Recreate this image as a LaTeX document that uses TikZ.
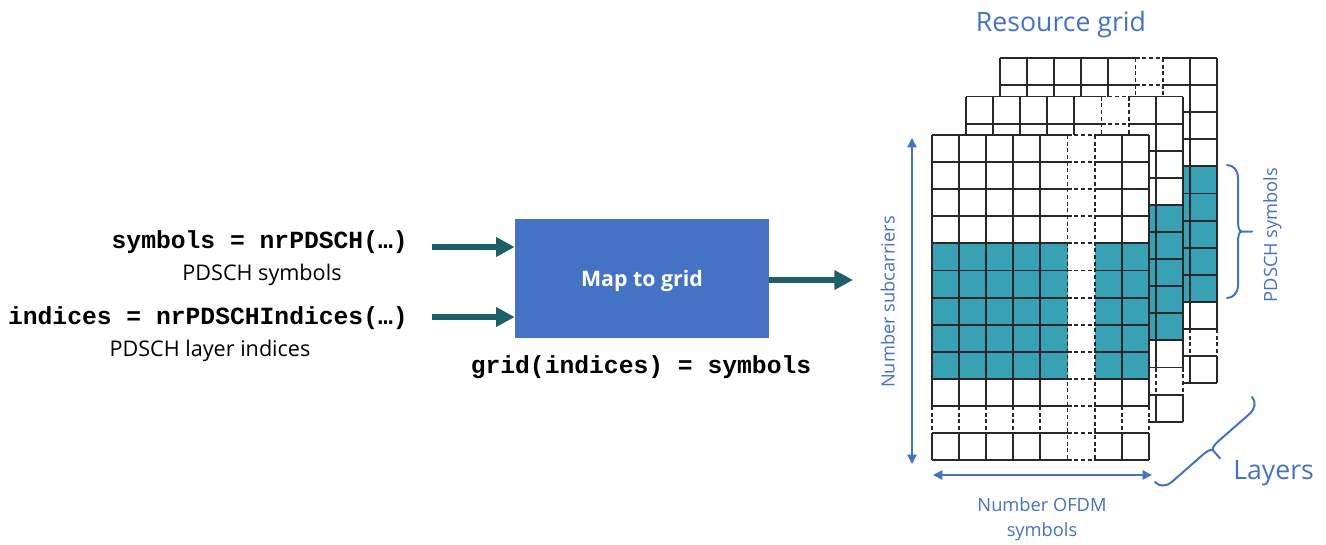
\documentclass[tikz,border=0pt]{standalone}
\usepackage{fontspec}
\setmainfont{Open Sans}
\newfontfamily\codefont{Liberation Mono}
\usetikzlibrary{arrows.meta}
\definecolor{boxblue}{RGB}{68,114,196}
\definecolor{txtblue}{RGB}{68,114,196}
\definecolor{arrowteal}{RGB}{31,95,104}
\definecolor{cellteal}{RGB}{56,162,180}
\definecolor{gridgray}{RGB}{40,40,40}
\def\cellsz{27.1}
\tikzset{
  gridline/.style={draw=gridgray,line width=1.4pt},
  griddash/.style={dash pattern=on 3pt off 2pt},
  bigarrow/.style={draw=arrowteal,line width=5.2pt,-{Triangle[length=14pt,width=14pt]}},
  bluearrow/.style={draw=txtblue,line width=1.1pt,{Triangle[length=7pt,width=7pt]}-{Triangle[length=7pt,width=7pt]}},
  bracestyle/.style={draw=txtblue,line width=1.5pt,line cap=round,line join=round},
  codetxt/.style={font=\codefont\bfseries\fontsize{18.5}{22}\selectfont,inner sep=0pt},
  lbltxt/.style={font=\fontsize{16.2}{19}\selectfont,inner sep=0pt},
  bluetxt/.style={font=\fontsize{13.7}{16}\selectfont,text=txtblue,inner sep=0pt},
  bigbluetxt/.style={font=\fontsize{20}{24}\selectfont,text=txtblue,inner sep=0pt},
}
\newcommand\layergrid[2]{%
  \begin{scope}[shift={(#1,#2)}]
    \fill[white] (0,0) rectangle ({8*\cellsz},{12*\cellsz});
    \fill[cellteal] (0,{4*\cellsz}) rectangle ({5*\cellsz},{9*\cellsz});
    \fill[cellteal] ({6*\cellsz},{4*\cellsz}) rectangle ({8*\cellsz},{9*\cellsz});
    \foreach \r in {0,...,12}{
      \draw[gridline] (0,{\r*\cellsz}) -- ({5*\cellsz},{\r*\cellsz});
      \draw[gridline,griddash] ({5*\cellsz},{\r*\cellsz}) -- ({6*\cellsz},{\r*\cellsz});
      \draw[gridline] ({6*\cellsz},{\r*\cellsz}) -- ({8*\cellsz},{\r*\cellsz});
    }
    \foreach \c in {0,1,2,3,4,7,8}{
      \draw[gridline] ({\c*\cellsz},0) -- ({\c*\cellsz},{10*\cellsz});
      \draw[gridline,griddash] ({\c*\cellsz},{10*\cellsz}) -- ({\c*\cellsz},{11*\cellsz});
      \draw[gridline] ({\c*\cellsz},{11*\cellsz}) -- ({\c*\cellsz},{12*\cellsz});
    }
    \foreach \c in {5,6}{
      \draw[gridline,griddash] ({\c*\cellsz},0) -- ({\c*\cellsz},{12*\cellsz});
    }
  \end{scope}}
\newcommand\drawbrace[4]{%
  \begin{scope}[shift={(#1,#2)},rotate=#3]
    \draw[bracestyle] (0,0) .. controls (0,6) and (5,11) .. (13,11)
      -- ({#4/2-11},11) .. controls ({#4/2-4},11) and ({#4/2},12) .. ({#4/2},15)
      -- ({#4/2},25)
      ({#4/2},15) .. controls ({#4/2},12) and ({#4/2+4},11) .. ({#4/2+11},11)
      -- ({#4-13},11) .. controls ({#4-5},11) and (#4,6) .. (#4,0);
  \end{scope}}
\begin{document}
\begin{tikzpicture}[x=0.75pt,y=-0.75pt]
\useasboundingbox (0,0) rectangle (1326,544);
% left texts
\node[codetxt,anchor=base east] (symcode) at (408,248) {symbols = nrPDSCH(…)};
\node[lbltxt,anchor=base] (symlbl) at (262,280) {PDSCH symbols};
\node[codetxt,anchor=base east] (idxcode) at (408,324) {indices = nrPDSCHIndices(…)};
\node[lbltxt,anchor=base] (idxlbl) at (210,356) {PDSCH layer indices};
% box
\node[fill=boxblue,minimum width=190.5pt,minimum height=89.25pt,inner sep=0pt,
      text=white,font=\bfseries\fontsize{16}{19}\selectfont,text depth=0pt] (box) at (642,278.5) {Map to grid};
\node[codetxt,anchor=base] (gridcode) at (641,373) {grid(indices) = symbols};
% arrows into and out of box
\coordinate (a1s) at (432,247);
\coordinate (a2s) at (432,317);
\coordinate (gridin) at (853,280);
\draw[bigarrow] (a1s) -- (box.west |- a1s);
\draw[bigarrow] (a2s) -- (box.west |- a2s);
\draw[bigarrow] (box.east |- gridin) -- (gridin);
% grids
\layergrid{1000}{58}
\layergrid{966}{96.5}
\layergrid{932}{135}
% title
\node[bigbluetxt,anchor=base] (title) at (1061,31) {Resource grid};
% dimension arrows
\coordinate (vtop) at (912,138);
\coordinate (vbot) at (912,464);
\draw[bluearrow] (vtop) -- (vbot);
\node[bluetxt,rotate=90,anchor=base] (subc) at (894.5,302) {Number subcarriers};
\coordinate (hl) at (933,475);
\coordinate (hr) at (1152,475);
\draw[bluearrow] (hl) -- (hr);
\node[bluetxt,anchor=base] (ofdm1) at (1042,511.5) {Number OFDM};
\node[bluetxt,anchor=base] (ofdm2) at (1042,536.5) {symbols};
% braces
\drawbrace{1227}{298}{90}{133}
\node[bluetxt,rotate=90,anchor=base] (pdschr) at (1277,235) {PDSCH symbols};
\drawbrace{1155}{482}{41.2}{129}
\node[bigbluetxt,anchor=base west] (layers) at (1233,479) {Layers};
\end{tikzpicture}
\end{document}
